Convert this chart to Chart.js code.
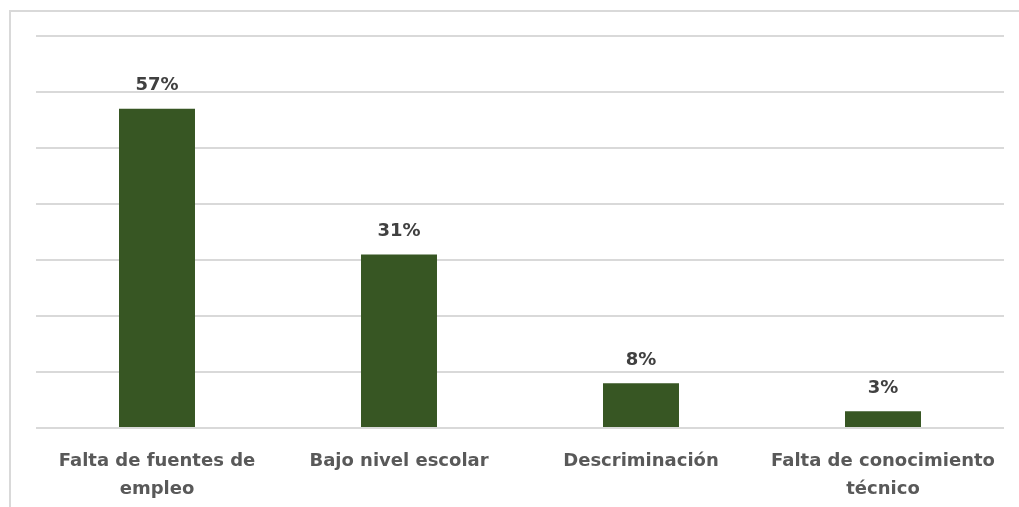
<!DOCTYPE html>
<html>
<head>
<meta charset="utf-8">
<script src="https://cdn.jsdelivr.net/npm/chart.js@4.4.0/dist/chart.umd.min.js"></script>
<style>
  html, body { margin: 0; padding: 0; background: #fff; }
  #wrap { position: relative; width: 1019px; height: 507px; overflow: hidden; }
  #frame { position: absolute; left: 9px; top: 10px; width: 1100px; height: 600px; border-left: 2px solid #d9d9d9; border-top: 2px solid #d9d9d9; }
  canvas { position: absolute; left: 0; top: 0; }
</style>
</head>
<body>
<div id="wrap">
  <div id="frame"></div>
  <canvas id="chart" width="1019" height="507"></canvas>
</div>
<script>
// data
const categories = [
  ['Falta de fuentes de', 'empleo'],
  'Bajo nivel escolar',
  'Descriminación',
  ['Falta de conocimiento', 'técnico']
];
const values = [57, 31, 8, 3];
const valueLabels = ['57%', '31%', '8%', '3%'];

const FONT = '"DejaVu Sans", Verdana, sans-serif';

// draw the % labels above each bar
const barLabels = {
  id: 'barLabels',
  afterDatasetsDraw(chart) {
    const ctx = chart.ctx;
    const meta = chart.getDatasetMeta(0);
    ctx.save();
    ctx.font = 'bold 18px ' + FONT;
    ctx.fillStyle = '#404040';
    ctx.textAlign = 'center';
    ctx.textBaseline = 'middle';
    meta.data.forEach((bar, i) => {
      ctx.fillText(valueLabels[i], bar.x, bar.y - 23);
    });
    ctx.restore();
  }
};

new Chart(document.getElementById('chart').getContext('2d'), {
  type: 'bar',
  data: {
    labels: categories,
    datasets: [{
      data: values,
      backgroundColor: '#375623',
      categoryPercentage: 1,
      barPercentage: 0.314
    }]
  },
  options: {
    responsive: false,
    animation: false,
    layout: { padding: { left: 36, right: 15, top: 36, bottom: 0 } },
    plugins: { legend: { display: false }, tooltip: { enabled: false } },
    scales: {
      x: {
        grid: { display: false, drawTicks: false },
        border: { display: false },
        ticks: {
          color: '#595959',
          font: { family: FONT, size: 18, weight: 'bold', lineHeight: 1.55 },
          padding: 19,
          maxRotation: 0,
          autoSkip: false
        },
        afterFit(scale) { scale.height = 79; }
      },
      y: {
        min: 0,
        max: 70,
        ticks: { display: false, stepSize: 10 },
        grid: { color: '#d9d9d9', lineWidth: 2, drawTicks: false },
        border: { display: false },
        afterFit(scale) { scale.width = 0; }
      }
    }
  },
  plugins: [barLabels]
});
</script>
</body>
</html>
